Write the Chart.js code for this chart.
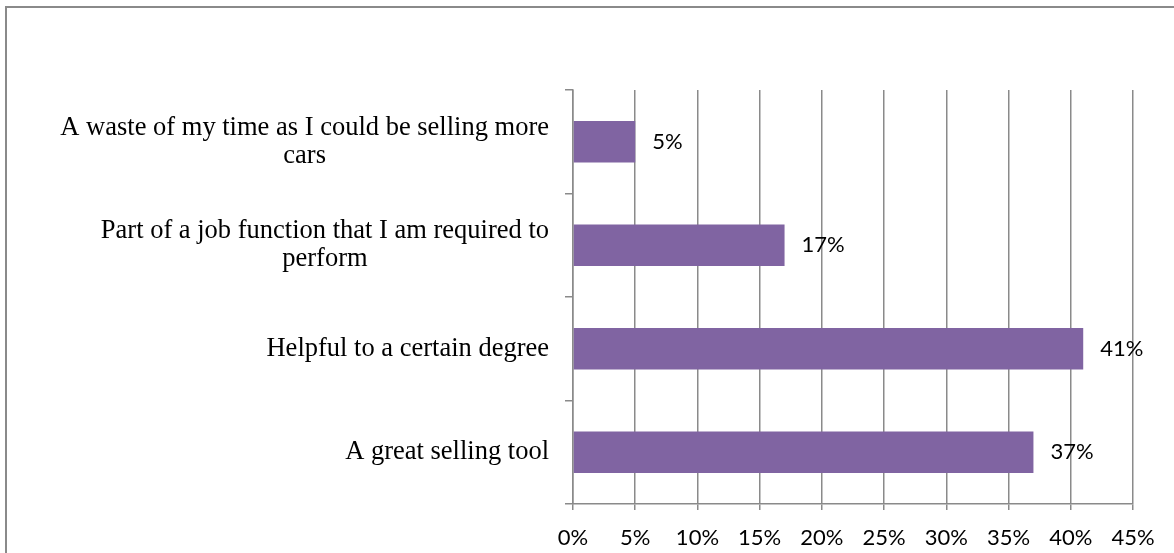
<!DOCTYPE html>
<html>
<head>
<meta charset="utf-8">
<script src="https://cdn.jsdelivr.net/npm/chart.js"></script>
<style>
    body { margin: 0; background: #fff; }
    #wrap { position: relative; width: 1174px; height: 553px; overflow: hidden; }
    #frame {
        position: absolute; left: 5px; top: 6px; width: 1200px; height: 600px;
        border-left: 2px solid #8a8a8a; border-top: 2px solid #8a8a8a;
        pointer-events: none;
    }
    #myChart { position: absolute; left: 0; top: 0; }
</style>
</head>
<body>
<div id="wrap">
    <div id="frame"></div>
    <canvas id="myChart" width="1174" height="553"></canvas>
</div>
<script>
// categories, top to bottom (line breaks as in the picture)
var categorias = [
    ["A waste of my time as I could be selling more", "cars"],
    ["Part of a job function that I am required to", "perform"],
    ["Helpful to a certain degree"],
    ["A great selling tool"]
];
var valores = [5, 17, 41, 37];
var xTicks = [0, 5, 10, 15, 20, 25, 30, 35, 40, 45];
var barColor = "#8064A2";

Chart.defaults.font.family = "Lato";

//category labels: block right aligned next to the axis, lines centered inside it
var rotulosCategoria = {
    id: "rotulosCategoria",
    afterDraw: function (chart) {
        var ctx = chart.ctx;
        var y = chart.scales.y;
        var right = chart.chartArea.left - 24;
        ctx.save();
        ctx.font = "26.5px 'Liberation Serif'";
        ctx.fillStyle = "#000";
        ctx.textAlign = "center";
        ctx.textBaseline = "middle";
        for (var i = 0; i < categorias.length; i++) {
            var linhas = categorias[i];
            var maxW = 0;
            for (var j = 0; j < linhas.length; j++) {
                maxW = Math.max(maxW, ctx.measureText(linhas[j]).width);
            }
            var cx = right - maxW / 2;
            var cy = y.getPixelForValue(i);
            for (var j = 0; j < linhas.length; j++) {
                ctx.fillText(linhas[j], cx, cy + (j - (linhas.length - 1) / 2) * 28);
            }
        }
        ctx.restore();
    }
};

//value labels after the end of each bar
var rotulosValor = {
    id: "rotulosValor",
    afterDatasetsDraw: function (chart) {
        var ctx = chart.ctx;
        var meta = chart.getDatasetMeta(0);
        ctx.save();
        ctx.font = "22px Lato";
        ctx.fillStyle = "#000";
        ctx.textAlign = "left";
        ctx.textBaseline = "middle";
        meta.data.forEach(function (bar, i) {
            ctx.fillText(valores[i] + "%", bar.x + 17, bar.y);
        });
        ctx.restore();
    }
};

new Chart("myChart", {
    type: "bar",
    data: {
        labels: categorias,
        datasets: [{
            data: valores,
            backgroundColor: barColor,
            borderWidth: 0,
            categoryPercentage: 1,
            barPercentage: 0.4
        }]
    },
    options: {
        indexAxis: "y",
        responsive: false,
        animation: false,
        layout: { padding: { top: 90, right: 41, bottom: 0, left: 0 } },
        plugins: {
            legend: { display: false },
            tooltip: { enabled: false }
        },
        scales: {
            x: {
                min: 0,
                max: 45,
                afterBuildTicks: function (scale) {
                    scale.ticks = xTicks.map(function (v) { return { value: v }; });
                },
                afterFit: function (scale) { scale.height = 49; },
                ticks: {
                    callback: function (v) { return v + "%"; },
                    color: "#000",
                    font: { size: 22 },
                    padding: 15,
                    maxRotation: 0
                },
                grid: { color: "#8a8a8a", lineWidth: 1.5, tickLength: 6 },
                border: { color: "#8a8a8a", width: 1.5 }
            },
            y: {
                afterFit: function (scale) { scale.width = 573; },
                ticks: { display: false },
                grid: {
                    offset: true,
                    drawOnChartArea: false,
                    drawTicks: true,
                    tickLength: 8,
                    color: "#8a8a8a",
                    lineWidth: 1.5
                },
                border: { color: "#8a8a8a", width: 1.5 }
            }
        }
    },
    plugins: [rotulosCategoria, rotulosValor]
});
</script>
</body>
</html>
